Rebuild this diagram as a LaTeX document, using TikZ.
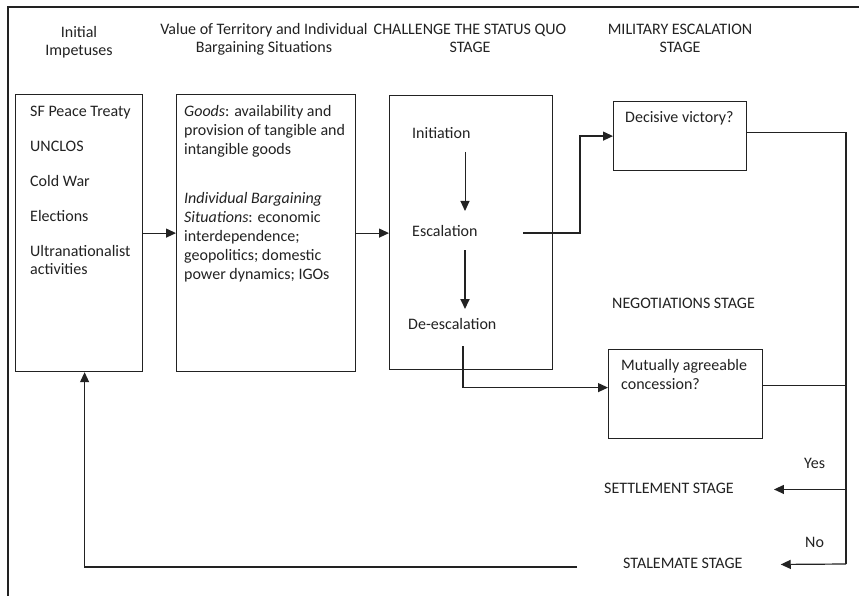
\documentclass[tikz,border=0pt]{standalone}
\usepackage{fontspec}
\setmainfont{Carlito}
\usetikzlibrary{arrows.meta}
\definecolor{ink}{HTML}{222222}
\begin{document}
\begin{tikzpicture}[x=1pt,y=-1pt,
  every node/.style={text=ink},
  font=\fontsize{16}{18.5}\selectfont,
  box/.style={draw=ink, line width=1.2pt, inner sep=0pt, anchor=north west},
  txt/.style={inner sep=0pt, anchor=north west, align=left},
  ctxt/.style={inner sep=0pt, anchor=north, align=center},
  wide/.style={font=\fontsize{16}{19}\selectfont},
  ln/.style={draw=ink, line width=1.2pt},
  arr/.style={ln, -{Triangle[length=10pt,width=9pt]}},
]
\useasboundingbox (0,0) rectangle (859,596);
\fill[white] (0,0) rectangle (859,596);
\draw[ln] (8,596) -- (8,7) -- (859,7);

% headers
\node[ctxt] (h1) at (79,24) {\strut Initial\\Impetuses};
\node[ctxt] (h2) at (264,21) {\strut Value of Territory and Individual\\Bargaining Situations};
\node[ctxt] (h3) at (470,21) {\strut CHALLENGE THE STATUS QUO\\STAGE};
\node[ctxt] (h4) at (680,21) {\strut MILITARY ESCALATION\\STAGE};

% boxes
\node[box, minimum width=127pt, minimum height=277pt] (b1) at (15,94) {};
\node[box, minimum width=179pt, minimum height=277pt] (b2) at (176,94) {};
\node[box, minimum width=163pt, minimum height=274pt] (b3) at (389,95) {};
\node[box, minimum width=133pt, minimum height=69pt] (dv) at (613,101) {};
\node[box, minimum width=154pt, minimum height=89pt] (mut) at (608,349) {};

% box texts
\node[txt] (t1) at (30,103) {\strut SF Peace Treaty\\[16.5pt]UNCLOS\\[16.5pt]Cold War\\[16.5pt]Elections\\[16.5pt]Ultranationalist\\activities};
\node[txt, wide] (t2a) at (184,103) {\strut\textit{Goods}: availability and\\provision of tangible and\\intangible goods};
\node[txt, wide] (t2b) at (184,190) {\strut\textit{Individual Bargaining}\\\textit{Situations}: economic\\interdependence;\\geopolitics; domestic\\power dynamics; IGOs};
\node[txt] (ini) at (412,125) {\strut Initiation};
\node[txt] (esc) at (412,223) {\strut Escalation};
\node[txt] (dee) at (408,316) {\strut De-escalation};
\node[txt] (dvt) at (625,109) {\strut Decisive victory?};
\node[txt] (neg) at (612,295) {\strut NEGOTIATIONS STAGE};
\node[txt, wide] (mutt) at (621,357) {\strut Mutually agreeable\\concession?};
\node[txt] (yes) at (804,455) {\strut Yes};
\node[txt] (set) at (604,480) {\strut SETTLEMENT STAGE};
\node[txt] (no) at (805,534) {\strut No};
\node[txt] (stal) at (623,555) {\strut STALEMATE STAGE};

% connectors
\draw[arr] (b1.east) -- (b1.east -| b2.west);
\draw[arr] (b2.east) -- (b2.east -| b3.west);

\coordinate (p1) at (465,152);
\coordinate (p2) at (465,211);
\draw[arr, line width=1pt] (p1) -- (p2);
\coordinate (p3) at (465,250);
\coordinate (p4) at (465,309);
\draw[arr, line width=1.8pt] (p3) -- (p4);

\coordinate (e1) at (523,233);
\draw[arr] (e1) -- ++(57,0) |- (dv.west);

\coordinate (d1) at (463,346);
\draw[arr] (d1) |- ([yshift=6.5pt]mut.west);

\coordinate (rb) at (846,564);
\draw[ln] ([yshift=3.5pt]dv.east) -| (rb);
\draw[ln] ([yshift=8.5pt]mut.east) -- ++(84,0);
\draw[arr] (rb |- set.east) -- ([xshift=40pt]set.east);
\draw[arr] (rb) -- ([xshift=38pt]stal.east);

\coordinate (s1) at (577,567);
\draw[arr] (s1) -| ([xshift=5.5pt]b1.south);
\end{tikzpicture}
\end{document}
